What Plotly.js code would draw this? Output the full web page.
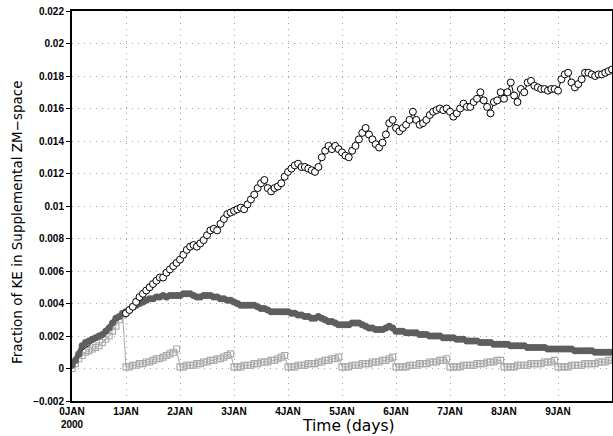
<!DOCTYPE html>
<html>
<head>
<meta charset="utf-8">
<script src="https://cdn.plot.ly/plotly-3.0.1.min.js"></script>
<style>html,body{margin:0;padding:0;background:#fff;}#chart{width:613px;height:436px;}</style>
</head>
<body>
<div id="chart"></div>
<script>
// samples every 1.5 h (16 per day), days 0..10
var stepsPerDay = 16;

// open circles (from day 1)
var circleVals = [
0.0034,0.0036,0.0038,0.0041,0.0044,0.0046,0.0048,0.0050,0.0052,0.0054,0.0056,0.0056,0.0059,0.0061,0.0063,0.0065,
0.0067,0.0070,0.0073,0.0075,0.0076,0.0075,0.0077,0.0079,0.0082,0.0085,0.0086,0.0085,0.0089,0.0092,0.0095,0.0096,
0.0097,0.0098,0.0099,0.0098,0.0101,0.0104,0.0107,0.0111,0.0114,0.0116,0.0111,0.0109,0.0111,0.0112,0.0114,0.0118,
0.0121,0.0123,0.0125,0.0126,0.0124,0.0124,0.0123,0.0122,0.0121,0.0124,0.0130,0.0134,0.0137,0.0135,0.0137,0.0135,
0.0133,0.0131,0.0130,0.0134,0.0137,0.0141,0.0145,0.0148,0.0144,0.0141,0.0138,0.0136,0.0139,0.0144,0.0151,0.0153,
0.0148,0.0146,0.0148,0.0150,0.0153,0.0158,0.0153,0.0150,0.0151,0.0153,0.0156,0.0158,0.0159,0.0160,0.0159,0.0160,
0.0158,0.0155,0.0157,0.0160,0.0163,0.0161,0.0161,0.0164,0.0166,0.0170,0.0165,0.0161,0.0157,0.0164,0.0165,0.0170,
0.0166,0.0170,0.0176,0.0168,0.0164,0.0172,0.0170,0.0176,0.0177,0.0174,0.0173,0.0172,0.0172,0.0171,0.0172,0.0172,
0.0171,0.0178,0.0181,0.0182,0.0176,0.0173,0.0175,0.0178,0.0182,0.0182,0.0181,0.0180,0.0181,0.0181,0.0182,0.0183,
0.0184
];
// same quantity during day 0 (drawn as a plain line)
var circleDay0 = [
0.0001,0.0004,0.0008,0.0011,0.0013,0.0014,0.0016,0.0017,0.0019,0.0020,0.0022,0.0025,0.0028,0.0031,0.0033,0.0034,0.0034
];
// dark filled series
var darkVals = [
0.0002,0.0005,0.0009,0.0014,0.0016,0.0017,0.0018,0.0019,0.0020,0.0021,0.0023,0.0025,0.0028,0.0031,0.0032,0.0034,
0.0035,0.0036,0.0038,0.0039,0.0040,0.0041,0.0042,0.0043,0.0043,0.0044,0.0044,0.0045,0.0044,0.0045,0.0045,0.0045,
0.0045,0.0046,0.0046,0.0046,0.0045,0.0044,0.0044,0.0045,0.0045,0.0045,0.0044,0.0044,0.0043,0.0043,0.0042,0.0042,
0.0041,0.0040,0.0039,0.0039,0.0039,0.0039,0.0039,0.0038,0.0037,0.0037,0.0036,0.0035,0.0035,0.0035,0.0035,0.0035,
0.0035,0.0034,0.0034,0.0033,0.0033,0.0032,0.0032,0.0031,0.0031,0.0032,0.0031,0.0030,0.0029,0.0029,0.0028,0.0027,
0.0027,0.0027,0.0027,0.0028,0.0028,0.0028,0.0027,0.0026,0.0025,0.0025,0.0024,0.0024,0.0024,0.0025,0.0026,0.0025,
0.0023,0.0023,0.0023,0.0022,0.0022,0.0022,0.0022,0.0021,0.0021,0.0021,0.0020,0.0020,0.0020,0.0020,0.0019,0.0019,
0.0019,0.0019,0.0018,0.0018,0.0018,0.0017,0.0017,0.0017,0.0017,0.0016,0.0016,0.0016,0.0016,0.0015,0.0015,0.0015,
0.0015,0.0015,0.0014,0.0014,0.0014,0.0014,0.0014,0.0013,0.0013,0.0013,0.0013,0.0013,0.0013,0.0012,0.0012,0.0012,
0.0012,0.0012,0.0012,0.0012,0.0012,0.0011,0.0011,0.0011,0.0011,0.0011,0.0011,0.0010,0.0010,0.0010,0.0010,0.0010,
0.0010
];
// open squares (sawtooth)
var squareVals = [
0.0000,0.0003,0.0006,0.0008,0.0010,0.0011,0.0012,0.0013,0.0014,0.0016,0.0018,0.0020,0.0023,0.0026,0.0030,0.0033,
0.0001,0.0001,0.0002,0.0002,0.0003,0.0003,0.0004,0.0004,0.0005,0.0006,0.0006,0.0007,0.0008,0.0009,0.0010,0.0012,
0.0001,0.0001,0.0002,0.0002,0.0002,0.0003,0.0003,0.0004,0.0004,0.0005,0.0005,0.0006,0.0006,0.0007,0.0008,0.0009,
0.0001,0.0001,0.0001,0.0002,0.0002,0.0002,0.0003,0.0003,0.0004,0.0004,0.0004,0.0005,0.0005,0.0006,0.0007,0.0008,
0.0001,0.0001,0.0001,0.0002,0.0002,0.0002,0.0003,0.0003,0.0003,0.0004,0.0004,0.0005,0.0005,0.0006,0.0006,0.0007,
0.0001,0.0001,0.0001,0.0002,0.0002,0.0002,0.0003,0.0003,0.0003,0.0004,0.0004,0.0004,0.0005,0.0005,0.0006,0.0007,
0.0001,0.0001,0.0001,0.0001,0.0002,0.0002,0.0002,0.0003,0.0003,0.0003,0.0004,0.0004,0.0004,0.0005,0.0005,0.0006,
0.0001,0.0001,0.0001,0.0001,0.0002,0.0002,0.0002,0.0002,0.0003,0.0003,0.0003,0.0004,0.0004,0.0004,0.0005,0.0005,
0.0001,0.0001,0.0001,0.0001,0.0002,0.0002,0.0002,0.0002,0.0003,0.0003,0.0003,0.0003,0.0004,0.0004,0.0004,0.0005,
0.0001,0.0001,0.0001,0.0001,0.0002,0.0002,0.0002,0.0002,0.0003,0.0003,0.0003,0.0003,0.0004,0.0004,0.0004,0.0005,
0.0005
];

var xTickVals = [0,1,2,3,4,5,6,7,8,9];
var xTickText = ["0JAN<br>2000","1JAN","2JAN","3JAN","4JAN","5JAN","6JAN","7JAN","8JAN","9JAN"];
var yTickVals = [-0.002,0,0.002,0.004,0.006,0.008,0.01,0.012,0.014,0.016,0.018,0.02,0.022];
var yTickText = ["\u22120.002","0","0.002","0.004","0.006","0.008","0.01","0.012","0.014","0.016","0.018","0.02","0.022"];
var xTitle = 'Time (days)';
var yTitle = 'Fraction of KE in Supplemental ZM\u2212space';

function days(n, offset){ var a=[]; for(var i=0;i<n;i++) a.push((i+offset)/stepsPerDay); return a; }

var traces = [
  {x: days(squareVals.length,0), y: squareVals, type:'scatter', mode:'lines+markers',
   line:{color:'#aaaaaa', width:1},
   marker:{symbol:'square-open', size:6, color:'#aaaaaa', line:{width:1.2}}},
  {x: days(circleDay0.length,0), y: circleDay0, type:'scatter', mode:'lines',
   line:{color:'#000', width:1}},
  {x: days(darkVals.length,0), y: darkVals, type:'scatter', mode:'lines+markers',
   line:{color:'#5a5a5a', width:5},
   marker:{symbol:'circle', size:7, color:'#5e5e5e'}},
  {x: days(circleVals.length,16), y: circleVals, type:'scatter', mode:'lines+markers',
   line:{color:'#000', width:1},
   marker:{symbol:'circle', size:7, color:'#fff', line:{color:'#000', width:1}}}
];

var tickFont = {size:10, family:'Liberation Sans, Arial, sans-serif', weight:'bold', color:'#000'};

var layout = {
  width:613, height:436,
  margin:{l:72, r:1, t:11, b:35},
  paper_bgcolor:'#fff', plot_bgcolor:'#fff',
  showlegend:false,
  font:{family:'Liberation Sans, Arial, sans-serif', color:'#000'},
  xaxis:{range:[0,10], tickvals:xTickVals, ticktext:xTickText,
    showgrid:true, gridcolor:'#a0a0a0', griddash:'1px,5px', gridwidth:1,
    zeroline:false, showline:true, linecolor:'#000', linewidth:2, mirror:true,
    ticks:'', tickfont:tickFont},
  yaxis:{range:[-0.002,0.022], tickvals:yTickVals, ticktext:yTickText,
    showgrid:true, gridcolor:'#a0a0a0', griddash:'1px,5px', gridwidth:1,
    zeroline:false, showline:true, linecolor:'#000', linewidth:2, mirror:true,
    ticks:'outside', ticklen:4, tickcolor:'#000', tickwidth:1,
    tickfont:tickFont},
  annotations:[
    {text:xTitle, xref:'paper', yref:'paper', x:(348-72)/540, y:-(425.5-401)/390,
     xanchor:'center', yanchor:'middle', showarrow:false,
     font:{size:15.5, family:'DejaVu Sans, sans-serif', color:'#000'}},
    {text:yTitle, xref:'paper', yref:'paper', x:(17-72)/540, y:(401-222)/390,
     xanchor:'center', yanchor:'middle', showarrow:false, textangle:-90,
     font:{size:13.5, family:'DejaVu Sans, sans-serif', color:'#000'}}
  ]
};

Plotly.newPlot('chart', traces, layout, {staticPlot:true, displayModeBar:false});
</script>
</body>
</html>
